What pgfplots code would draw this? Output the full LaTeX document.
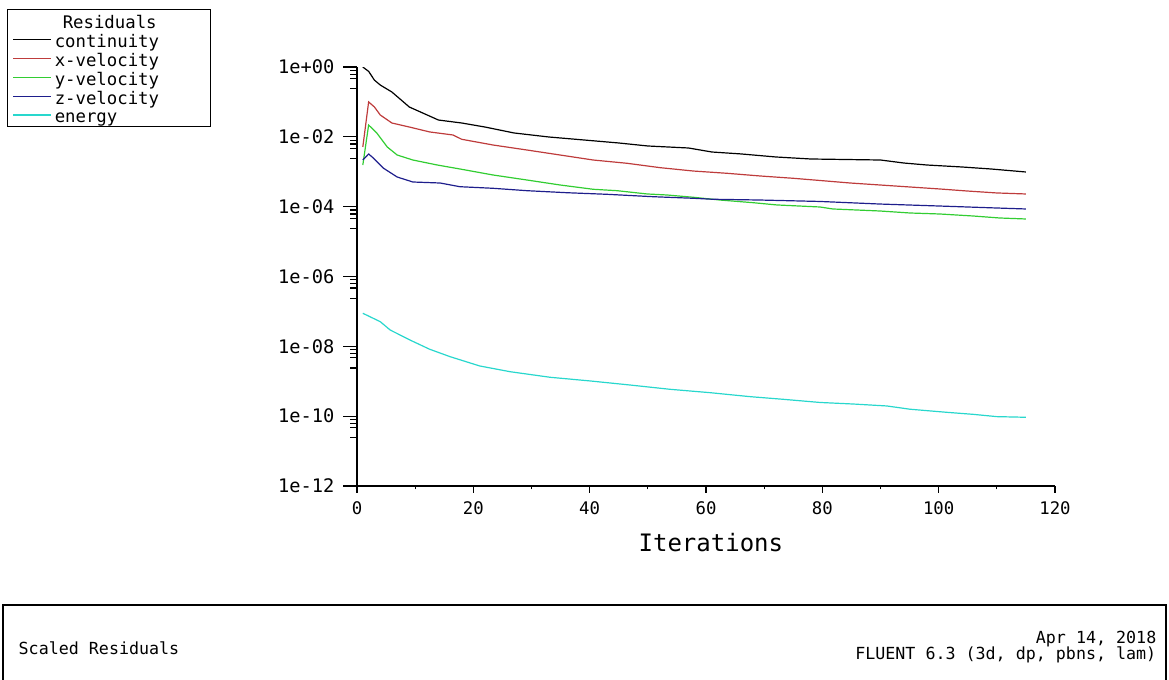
\documentclass[border=0pt]{standalone}
\usepackage{fontspec}
\setmainfont{DejaVu Sans Mono}
\usepackage{pgfplots}
\pgfplotsset{compat=1.18}
\definecolor{fred}{RGB}{190,60,60}
\definecolor{fgreen}{RGB}{50,205,50}
\definecolor{fblue}{RGB}{30,30,140}
\definecolor{fcyan}{RGB}{40,215,205}
\begin{document}
\begin{tikzpicture}[x=0.75pt,y=0.75pt]
\useasboundingbox (0,0) rectangle (1169,679);
\begin{axis}[
  at={(267.75pt,144.75pt)}, anchor=south west,
  scale only axis, width=523.5pt, height=314.25pt,
  xmin=0, xmax=120, ymin=1e-12, ymax=1,
  ymode=log,
  axis x line=bottom, axis y line=left,
  axis line style={-, line width=1.1pt},
  tick align=outside,
  major tick length=5pt, minor tick length=2.5pt,
  every tick/.style={line width=0.9pt, black},
  xtick={0,20,40,60,80,100,120},
  xticklabels={0,20,40,60,80,100,120},
  minor xtick={10,30,50,70,90,110},
  ytick={0.8,0.62,0.47,0.24,8e-3,6.2e-3,4.7e-3,2.4e-3,8e-5,6.2e-5,4.7e-5,2.4e-5,8e-7,6.2e-7,4.7e-7,2.4e-7,8e-9,6.2e-9,4.7e-9,2.4e-9,8e-11,6.2e-11,4.7e-11,2.4e-11},
  yticklabels={},
  extra y ticks={1,1e-2,1e-4,1e-6,1e-8,1e-10,1e-12},
  extra y tick labels={1e+00,1e-02,1e-04,1e-06,1e-08,1e-10,1e-12},
  extra y tick style={major tick length=10.5pt, yticklabel style={font=\fontsize{14}{14}\selectfont, xshift=-3pt}},
  xticklabel style={font=\fontsize{13}{13}\selectfont, yshift=-3.5pt},
  xlabel={Iterations},
  xlabel style={font=\fontsize{18}{18}\selectfont, at={(axis description cs:0.507,-0.136)}, anchor=center},
  legend style={at={(-0.5014,1.1384)}, anchor=north west, draw=black, line width=0.8pt,
    inner xsep=3.75pt, inner ysep=1.5pt, row sep=0pt, column sep=2.25pt,
    font=\fontsize{13}{13}\selectfont,
    nodes={inner sep=0pt, text height=13pt, text depth=1.1pt}},
  legend cell align=left,
  legend image code/.code={\draw[#1] (0pt,0pt) -- (28.5pt,0pt);},
]
\addlegendimage{empty legend}
\addlegendentry{\hspace{6pt}Residuals}
\addplot[color=black, line width=0.9pt] coordinates {
(1,1.0) (2,0.75) (3,0.42) (4,0.305) (6,0.192) (9,0.0714) (14,0.0303) (18,0.0249)
(22,0.0191) (27,0.0129) (33,0.00989) (39,0.00813) (45,0.00667) (50,0.00547)
(57,0.00479) (61,0.00368) (66,0.00324) (72,0.00265) (78,0.00232) (90,0.00217)
(94,0.00178) (98,0.00156) (104,0.00137) (109,0.00120) (115,0.000984)};
\addlegendentry{\makebox[113pt][l]{continuity}}
\addplot[color=fred, line width=0.9pt] coordinates {
(1,0.00513) (2,0.1) (3,0.0714) (4,0.0422) (6,0.0249) (9,0.0191) (12.5,0.0138) (16.5,0.0113)
(18,0.00851) (23.4,0.00583) (29.2,0.00420) (34.9,0.00302) (40.6,0.00217) (46.4,0.00175)
(52.1,0.00131) (57.8,0.00105) (63.6,0.000904) (69.3,0.000757) (75,0.000650) (79.6,0.000562)
(84.8,0.000476) (89.9,0.000418) (95.1,0.000366) (100.2,0.000321) (104.9,0.000281)
(110,0.000247) (115,0.000231)};
\addlegendentry{\makebox[113pt][l]{x-velocity}}
\addplot[color=fgreen, line width=0.9pt] coordinates {
(1,0.00156) (2,0.0218) (3.4,0.0129) (5.2,0.00512) (6.9,0.00302) (9.6,0.00217) (13.8,0.00156)
(17.7,0.00120) (23.4,0.000807) (29.2,0.000581) (34.9,0.000418) (40.6,0.000315) (44.7,0.000287)
(49.9,0.000231) (53.3,0.000216) (57.8,0.000186) (62.4,0.000155) (68.1,0.000130) (72.2,0.000112)
(79.6,0.0000979) (81.8,0.0000859) (89.9,0.0000752) (95.1,0.0000659) (100.2,0.0000617)
(105.9,0.0000541) (110.5,0.0000474) (115,0.0000444)};
\addlegendentry{\makebox[113pt][l]{y-velocity}}
\addplot[color=fblue, line width=0.9pt] coordinates {
(1,0.00217) (2,0.00323) (2.8,0.00248) (4.5,0.00128) (6.9,0.000708) (9.6,0.000509) (14.3,0.000476)
(17.7,0.000373) (23.4,0.000336) (29.2,0.000287) (36.1,0.000251) (43,0.000226) (50.9,0.000193)
(57.8,0.000174) (61.2,0.000163) (69.3,0.000155) (79.6,0.000141) (89.9,0.000119) (99.7,0.000105)
(110,0.0000916) (115,0.0000859)};
\addlegendentry{\makebox[113pt][l]{z-velocity}}
\addplot[color=fcyan, line width=0.9pt] coordinates {
(1,8.85e-8) (4,5.08e-8) (5.7,2.94e-8) (9.1,1.52e-8) (12.5,8.24e-9) (16,5.06e-9) (21.1,2.74e-9)
(26.3,1.88e-9) (33.2,1.30e-9) (40.1,1.02e-9) (46.9,7.82e-10) (53.8,5.89e-10) (60.7,4.71e-10)
(67.6,3.62e-10) (73.2,3.05e-10) (79.6,2.47e-10) (85.3,2.23e-10) (91.1,1.96e-10) (95.1,1.58e-10)
(101.4,1.29e-10) (105.9,1.13e-10) (110,9.7e-11) (115,9.3e-11)};
\addlegendentry{\makebox[113pt][l]{energy}}
\end{axis}
\draw[line width=1.2pt] (3,-10) -- (3,74) -- (1166,74) -- (1166,-10);
\node[anchor=west, font=\fontsize{12.5}{12.5}\selectfont] at (14,31) {Scaled Residuals};
\node[anchor=east, font=\fontsize{12.5}{12.5}\selectfont] at (1161,40) {Apr 14, 2018};
\node[anchor=east, font=\fontsize{12.5}{12.5}\selectfont] at (1161,24) {FLUENT 6.3 (3d, dp, pbns, lam)};
\end{tikzpicture}
\end{document}
